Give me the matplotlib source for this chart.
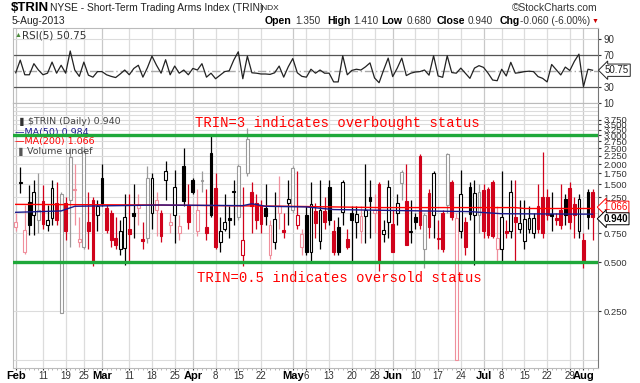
import matplotlib
matplotlib.use("Agg")
import matplotlib.pyplot as plt
from matplotlib.patches import Rectangle

W, H = 640, 383

def fx(px):
    return px / W

def fy(py):
    return 1 - py / H

# ---- data, one entry per trading day, 1-Feb-2013 .. 5-Aug-2013
opens = [0.82, 1.52, 0.58, 1.17, 0.97, 0.90, 1.18, 0.84, 0.93, 1.15,
         0.243, 1.15, 1.20, 1.40, 0.66, 0.62, 0.88, 1.20, 0.97, 1.65,
         1.07, 1.00, 0.70, 0.60, 0.61, 0.80, 1.00, 1.08, 0.69, 0.70,
         1.00, 1.05, 1.00, 1.60, 0.84, 0.97, 0.75, 1.95, 1.12, 1.60,
         0.78, 1.58, 0.82, 2.33, 1.42, 0.66, 0.80, 0.93, 1.37, 0.95,
         0.55, 1.75, 1.35, 1.15, 1.12, 1.07, 0.55, 0.66, 1.00, 0.79,
         1.15, 1.05, 0.85, 0.62, 0.97, 0.58, 1.03, 0.67, 1.03, 1.45,
         0.78, 0.82, 1.02, 0.69, 1.00, 0.88, 0.78, 0.96, 1.25, 1.00,
         1.50, 0.74, 0.88, 0.86, 1.00, 1.53, 1.18, 0.76, 0.95, 2.25,
         0.60, 1.33, 0.97, 0.70, 1.00, 1.12, 1.55, 0.125, 0.78, 0.88,
         1.45, 0.97, 0.97, 1.38, 1.40, 1.55, 0.60, 0.60, 0.77, 0.77,
         0.95, 0.80, 0.67, 0.80, 0.75, 1.10, 1.25, 1.25, 0.99, 0.93,
         1.05, 1.22, 1.42, 1.13, 0.77, 0.68, 1.35, 1.35]
highs = [1.00, 1.92, 1.12, 1.49, 1.59, 1.75, 1.49, 1.12, 1.59, 1.55,
         1.35, 1.25, 2.50, 2.00, 0.95, 2.55, 1.35, 1.25, 1.20, 1.99,
         1.12, 1.05, 0.95, 0.90, 1.30, 1.30, 1.50, 1.30, 0.88, 1.95,
         1.75, 1.35, 1.05, 2.10, 1.00, 1.85, 0.97, 2.50, 1.50, 1.65,
         1.40, 1.80, 1.40, 3.05, 1.75, 0.95, 1.30, 1.10, 1.60, 2.00,
         1.45, 3.35, 1.55, 1.30, 1.20, 1.50, 0.90, 1.35, 1.70, 1.00,
         1.60, 1.95, 1.80, 0.80, 1.10, 1.55, 1.15, 1.60, 1.25, 1.60,
         0.90, 0.95, 1.60, 0.80, 1.10, 1.10, 1.10, 2.00, 1.60, 1.30,
         1.55, 0.90, 1.60, 1.05, 1.30, 1.85, 2.00, 1.20, 1.00, 2.30,
         1.00, 1.40, 1.80, 0.90, 1.05, 2.35, 1.60, 1.00, 1.85, 0.95,
         1.55, 1.60, 1.50, 1.50, 1.45, 1.60, 1.10, 1.80, 0.90, 1.60,
         1.60, 1.20, 1.20, 1.10, 1.00, 1.50, 2.38, 1.40, 1.35, 1.00,
         1.50, 1.30, 1.55, 1.25, 1.30, 0.75, 1.40, 1.41]
lows = [0.78, 1.33, 0.56, 0.73, 0.73, 0.75, 0.80, 0.77, 0.85, 0.85,
        0.243, 0.68, 0.62, 0.85, 0.62, 0.60, 0.60, 0.47, 0.78, 1.10,
        0.75, 0.62, 0.60, 0.55, 0.48, 0.50, 0.70, 0.85, 0.60, 0.65,
        0.80, 0.72, 0.66, 1.20, 0.75, 0.65, 0.68, 1.10, 0.80, 1.30,
        0.72, 1.35, 0.68, 0.95, 0.60, 0.58, 0.78, 0.70, 0.85, 0.90,
        0.47, 1.70, 0.75, 0.80, 0.75, 0.85, 0.52, 0.60, 0.80, 0.70,
        0.85, 1.00, 0.80, 0.55, 0.55, 0.50, 0.70, 0.60, 0.80, 0.85,
        0.55, 0.55, 0.85, 0.60, 0.50, 0.70, 0.65, 0.65, 0.70, 0.75,
        0.44, 0.66, 0.70, 0.58, 0.85, 1.20, 0.64, 0.65, 0.80, 0.80,
        0.46, 0.70, 0.70, 0.60, 0.58, 1.00, 0.90, 0.125, 0.70, 0.55,
        0.90, 0.48, 0.75, 0.70, 0.70, 0.70, 0.50, 0.50, 0.70, 0.70,
        0.50, 0.75, 0.60, 0.75, 0.70, 0.75, 0.70, 0.90, 0.78, 0.85,
        0.80, 0.85, 0.80, 0.70, 0.70, 0.46, 0.80, 0.68]
closes = [0.88, 1.55, 0.79, 0.85, 1.35, 1.05, 0.86, 0.90, 1.42, 0.91,
          1.30, 0.78, 2.20, 1.38, 0.69, 2.40, 0.78, 0.50, 1.10, 1.15,
          0.79, 0.68, 0.64, 0.78, 0.95, 0.74, 0.96, 1.12, 0.67, 1.65,
          1.65, 1.20, 0.72, 1.80, 0.88, 1.45, 0.83, 1.18, 0.88, 1.35,
          1.05, 1.60, 0.75, 0.97, 0.62, 0.78, 0.88, 0.91, 1.35, 1.95,
          0.68, 2.85, 1.10, 0.90, 0.86, 0.96, 0.85, 0.92, 1.10, 0.76,
          1.22, 1.90, 0.97, 0.74, 0.58, 1.13, 0.87, 1.05, 0.88, 0.90,
          0.58, 0.58, 1.55, 0.62, 0.90, 0.98, 0.96, 1.05, 1.18, 1.05,
          0.50, 0.79, 1.45, 0.58, 1.15, 1.79, 0.64, 0.78, 0.88, 0.84,
          0.97, 0.82, 1.75, 0.69, 0.60, 2.30, 0.95, 0.93, 1.30, 0.62,
          0.98, 1.33, 1.35, 0.78, 0.73, 0.72, 0.70, 0.95, 0.75, 1.35,
          0.88, 0.87, 0.92, 0.93, 0.93, 0.80, 0.75, 0.97, 0.96, 0.90,
          0.85, 0.97, 0.88, 0.97, 1.22, 0.50, 0.95, 0.94]
# k = black, r = red, g = pale gray, p = pale red
shade = ("pkpkkgrkkr" "grgppgrrkk" "rrrkkrkprg" "kprkpkpkrk" "pgrkrkkkkg"
         "rgrrrkpkpr" "kgrpkkrkrk" "rkkrkkpkkp" "rkkrkgrkkr" "grkrrgrpkr"
         "kkgrrrpkrk" "rkkkkrrrkr" "rkrrkrkr")

rsi = [47.5, 63.5, 45, 45, 59, 51, 45, 47, 61, 47,
       57, 47, 75, 51, 43, 61, 44.5, 42, 49, 49,
       45, 43, 41.5, 46, 51, 45, 53, 57, 42, 54,
       68.5, 57, 47, 64, 45, 56, 47, 51, 45, 53,
       51, 59, 42, 47, 40, 44.5, 49, 50, 63.5, 74,
       40, 68.5, 47.5, 47, 46, 46, 45.5, 47.5, 56, 42,
       55, 65.5, 47.5, 43, 42, 52, 47, 51, 47, 47,
       36, 36, 69, 45, 50.5, 52, 51, 55, 60, 41,
       35, 51, 66, 42.7, 53.4, 66, 44, 47, 48.5, 49,
       51, 44.5, 69, 43.5, 41.8, 69, 47.8, 47, 53.4, 47,
       40.5, 53.4, 56.5, 54.3, 47, 38.4, 37.5, 52, 43.5, 60.7,
       47, 47.8, 49, 49.5, 49, 42.7, 40.5, 36, 58, 51.3,
       44.8, 54.7, 50.4, 62, 71, 30, 52, 50.75]

ma50_days = [0, 10, 13, 32, 50, 52, 55, 64, 70, 90, 100, 107, 127]
ma50_vals = [1.01, 1.03, 1.10, 1.12, 1.11, 1.14, 1.10, 1.09, 1.05, 1.03, 1.02, 0.99, 0.984]
ma200_days = [0, 30, 60, 80, 110, 112, 127]
ma200_vals = [1.13, 1.12, 1.10, 1.08, 1.08, 1.066, 1.066]

tick_days = [0, 6, 11, 15, 19, 25, 30, 35, 39, 44, 49, 54, 61, 64, 69, 74, 79,
             83, 88, 93, 98, 103, 107, 112, 117, 122, 125]
tick_labels = ["Feb", "11", "19", "25", "Mar", "11", "18", "25", "Apr", "8", "15", "22",
               "May", "6", "13", "20", "28", "Jun", "10", "17", "24", "Jul", "8", "15",
               "22", "29", "Aug"]
months = {"Feb", "Mar", "Apr", "May", "Jun", "Jul", "Aug"}
price_ticks = [0.25, 0.5, 0.75, 1.25, 1.5, 1.75, 2.0, 2.25, 2.5, 2.75, 3.0, 3.25, 3.5, 3.75]
grid_levels = [0.125, 0.25, 0.5, 0.75, 1.0, 1.25, 1.5, 1.75, 2.0, 2.25, 2.5, 2.75,
               3.0, 3.25, 3.5, 3.75, 4.0, 4.25, 4.5]
overbought, oversold = 3.0, 0.5
last_close, last_ma50, last_ma200 = 0.940, 0.984, 1.066

plt.rcParams["font.family"] = ["Liberation Sans", "DejaVu Sans"]

fig = plt.figure(figsize=(6.4, 3.83), dpi=100)
ax_r = fig.add_axes([fx(13), fy(103), 585 / W, 75 / H])
ax = fig.add_axes([fx(13), fy(368), 585 / W, 265 / H], sharex=ax_r)

n = len(closes)
grid_c = "#dcdcdc"
for a in (ax_r, ax):
    for d, lab in zip(tick_days, tick_labels):
        a.axvline(d, color="#c8c8c8" if lab in months else grid_c, lw=0.9, zorder=0)
    for s in ("left", "top", "bottom"):
        a.spines[s].set_color("#bbbbbb")
    a.spines["right"].set_color("#777777")
    a.set_facecolor("white")

# ---- RSI panel
ax_r.plot(range(n), rsi, color="#222222", lw=0.9, zorder=3)
ax_r.axhline(70, color="#555555", lw=0.9, zorder=2)
ax_r.axhline(30, color="#555555", lw=0.9, zorder=2)
ax_r.axhline(50, color="#aaaaaa", lw=1.0, ls=(0, (6, 2, 1, 2)), zorder=2)
for lv in (10, 90):
    ax_r.axhline(lv, color=grid_c, lw=0.8, zorder=0)
ax_r.set_ylim(9.4, 104)
ax_r.yaxis.tick_right()
ax_r.set_yticks([10, 30, 70, 90])
ax_r.tick_params(axis="y", labelsize=7, colors="#333333", length=2, pad=2)
ax_r.tick_params(axis="x", bottom=False, labelbottom=False)
ax_r.annotate(f"{rsi[-1]:.2f}", xy=(1.0, rsi[-1]), xycoords=("axes fraction", "data"),
              xytext=(5, 0), textcoords="offset points", va="center", ha="left",
              fontsize=7, color="#222222",
              bbox=dict(boxstyle="larrow,pad=0.12", fc="white", ec="#222222", lw=0.7))
ax_r.text(0.016, 0.9, "RSI(5) 50.75", transform=ax_r.transAxes, fontsize=7.5,
          color="#333333", family="DejaVu Sans", va="center")
ax_r.text(0.002, 0.9, "\u25B2", transform=ax_r.transAxes, fontsize=5,
          color="#4a8a3a", va="center")

# ---- price panel
ax.set_yscale("log", base=2)
colmap = {"k": "#000000", "r": "#d0021b", "g": "#9a9a9a", "p": "#f08f9c"}
w = 0.62
for i in range(n):
    c = colmap[shade[i]]
    ax.vlines(i, lows[i], highs[i], color=c, lw=0.9, zorder=2)
    lo, hi = min(opens[i], closes[i]), max(opens[i], closes[i])
    hi = max(hi, lo * 1.015)
    filled = closes[i] < opens[i]
    ax.add_patch(Rectangle((i - w / 2, lo), w, hi - lo, facecolor=c if filled else "white",
                           edgecolor=c, lw=0.8, zorder=3))

ax.plot(ma200_days, ma200_vals, color="#ff0000", lw=1.0, zorder=4)
ax.plot(ma50_days, ma50_vals, color="#1a1a8c", lw=1.0, zorder=4)

for lv in grid_levels:
    ax.axhline(lv, color=grid_c, lw=0.8, zorder=0)
ax.axhline(overbought, color="#1fa83a", lw=2.4, zorder=6)
ax.axhline(oversold, color="#1fa83a", lw=2.4, zorder=6)

ax.set_xlim(-0.6, 128.2)
ax.set_ylim(0.1117, 4.74)
ax.yaxis.tick_right()
ax.set_yticks(price_ticks)
ax.set_yticklabels([f"{v:.3f}" for v in price_ticks])
ax.yaxis.set_minor_locator(matplotlib.ticker.NullLocator())
ax.tick_params(axis="y", labelsize=6.8, colors="#333333", length=2, pad=2)
ax.set_xticks(tick_days)
ax.set_xticklabels(tick_labels)
ax.set_xticks(range(n), minor=True)
ax.tick_params(axis="x", which="major", length=1.5, pad=0.5, labelsize=7, colors="#333333")
ax.tick_params(axis="x", which="minor", length=1.5, color="#aaaaaa")
for lab in ax.get_xticklabels():
    if lab.get_text() in months:
        lab.set_fontweight("bold")
        lab.set_fontsize(8)
        lab.set_color("black")

ax.annotate(f"{last_ma200:.3f}", xy=(1.0, last_ma200), xycoords=("axes fraction", "data"),
            xytext=(4, 1), textcoords="offset points", va="center", ha="left",
            fontsize=7, color="#ff0000",
            bbox=dict(boxstyle="larrow,pad=0.1", fc="white", ec="#ff0000", lw=0.7))
ax.annotate(f"{last_close:.3f}", xy=(1.0, last_close), xycoords=("axes fraction", "data"),
            xytext=(4, -1), textcoords="offset points", va="center", ha="left",
            fontsize=7, color="black", fontweight="bold",
            bbox=dict(boxstyle="larrow,pad=0.1", fc="white", ec="black", lw=0.7))

# legend block, top left of price panel
lg = dict(transform=fig.transFigure, fontsize=6.8, family="DejaVu Sans", va="center", zorder=5)
ax.text(fx(17), fy(121.5), "\u2590", color="#333333", **{**lg, "fontsize": 6})
ax.text(fx(28), fy(121.5), "$TRIN (Daily) 0.940", color="#444444", **lg)
ax.text(fx(15), fy(132.5), "\u2014MA(50) 0.984", color="#1a1a8c", **lg)
ax.text(fx(15), fy(141.5), "\u2014MA(200) 1.066", color="#ff0000", **lg)
ax.text(fx(16), fy(151.5), "\u2590", color="#555555", **{**lg, "fontsize": 6})
ax.text(fx(27), fy(151.5), "Volume undef", color="#444444", **lg)

note = dict(transform=fig.transFigure, fontsize=10, family="Liberation Mono",
            color="#ff0000", va="center", zorder=7)
ax.text(fx(195), fy(123.5), "TRIN=3 indicates overbought status", **note)
ax.text(fx(197), fy(278.5), "TRIN=0.5 indicates oversold status", **note)

# ---- header
fig.text(fx(11), fy(8), "$TRIN", fontsize=9.5, fontweight="bold", va="center")
fig.text(fx(50), fy(8), "NYSE - Short-Term Trading Arms Index (TRIN)", fontsize=7.4,
         color="#222222", va="center")
fig.text(fx(259), fy(8.5), "INDX", fontsize=6, color="#222222", va="center")
fig.text(fx(12), fy(21), "5-Aug-2013", fontsize=7.4, color="#222222", va="center")
fig.text(fx(598), fy(8), "\u00A9StockCharts.com", fontsize=7.4, color="#333333",
         va="center", ha="right")
hdr = [(265, "Open", True), (295, "1.350", False), (327, "High", True), (353, "1.410", False),
       (381, "Low", True), (407, "0.680", False), (437, "Close", True), (468, "0.940", False),
       (500, "Chg", True), (520, "-0.060 (-6.00%)", False)]
for px, s, b in hdr:
    fig.text(fx(px), fy(21), s, fontsize=7.6 if b else 7.2,
             fontweight="bold" if b else "normal",
             color="black" if b else "#333333", va="center")
fig.text(fx(592), fy(21.5), "\u25BC", fontsize=5, color="#cc0000", va="center")

fig.savefig("out.png", dpi=100)
